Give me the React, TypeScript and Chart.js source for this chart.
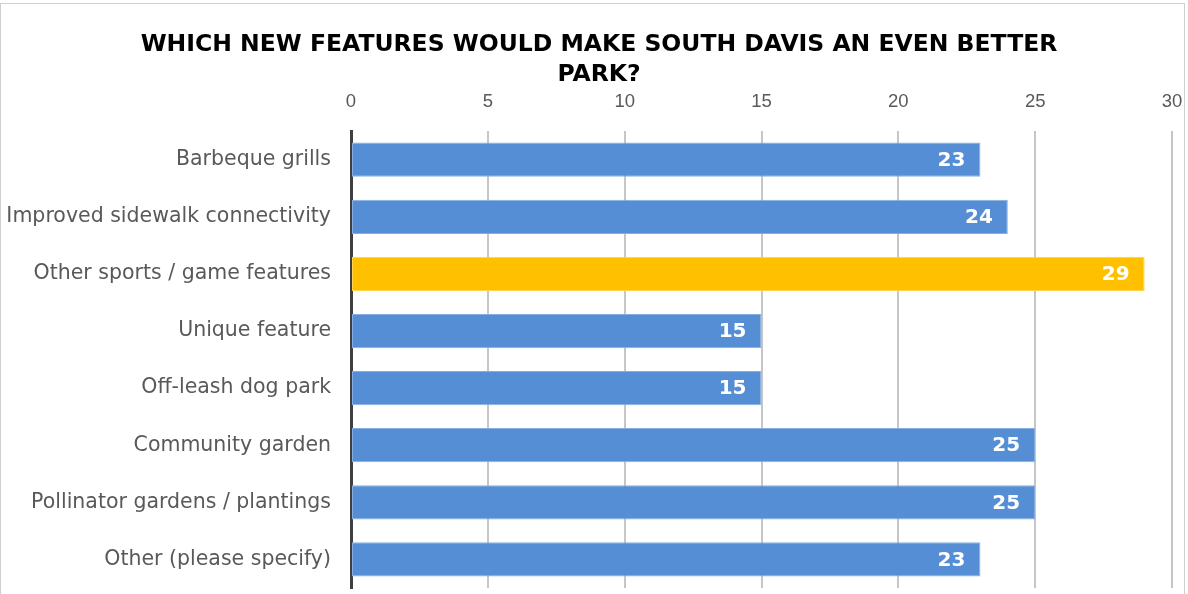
import React, { useEffect, useRef } from "react";
import { Chart, registerables } from "chart.js";

Chart.register(...registerables);

const titleLines = ["WHICH NEW FEATURES WOULD MAKE SOUTH DAVIS AN EVEN BETTER", "PARK?"];
const categories = [
  "Barbeque grills",
  "Improved sidewalk connectivity",
  "Other sports / game features",
  "Unique feature",
  "Off-leash dog park",
  "Community garden",
  "Pollinator gardens / plantings",
  "Other (please specify)",
];
const values = [23, 24, 29, 15, 15, 25, 25, 23];
const highlighted = [false, false, true, false, false, false, false, false];
const xMin = 0;
const xMax = 30;
const xStep = 5;

const BLUE = "#558ED5";
const YELLOW = "#FFC000";
const LABEL_FONT = "20.5px 'DejaVu Sans'";

const valueLabels = {
  id: "valueLabels",
  afterDatasetsDraw(chart: any) {
    const ctx = chart.ctx;
    const meta = chart.getDatasetMeta(0);
    ctx.save();
    ctx.fillStyle = "#ffffff";
    ctx.font = "bold 20px 'DejaVu Sans'";
    ctx.textAlign = "right";
    ctx.textBaseline = "middle";
    meta.data.forEach((bar: any, i: number) => {
      ctx.fillText(String(values[i]), bar.x - 15, bar.y + 1);
    });
    ctx.restore();
  },
};

export default function App() {
  const ref = useRef<HTMLCanvasElement | null>(null);
  useEffect(() => {
    if (!ref.current) return;
    const mctx = document.createElement("canvas").getContext("2d")!;
    mctx.font = LABEL_FONT;
    const widest = Math.max(...categories.map((c) => mctx.measureText(c).width));
    const chart = new Chart(ref.current, {
      type: "bar",
      data: {
        labels: categories,
        datasets: [
          {
            data: values,
            backgroundColor: highlighted.map((h) => (h ? YELLOW : BLUE)),
            borderColor: highlighted.map((h) => (h ? "#FFD34D" : "#86AEE3")),
            borderWidth: 1,
            borderSkipped: false,
            barPercentage: 0.6,
            categoryPercentage: 1,
          },
        ],
      },
      options: {
        indexAxis: "y",
        animation: false,
        responsive: false,
        maintainAspectRatio: false,
        layout: { padding: { left: 26, right: 16, top: 0, bottom: 6 } },
        plugins: {
          legend: { display: false },
          tooltip: { enabled: false },
          title: {
            display: true,
            text: titleLines,
            color: "#000000",
            font: { family: "'DejaVu Sans'", size: 23.5, weight: "bold", lineHeight: 1.28 },
            padding: { top: 30, bottom: 0 },
          },
        },
        scales: {
          x: {
            position: "top",
            min: xMin,
            max: xMax,
            ticks: {
              stepSize: xStep,
              color: "#595959",
              font: { family: "'Liberation Sans'", size: 18.5 },
              padding: 0,
            },
            grid: { color: "#C6C6C6", lineWidth: 2, drawTicks: true, tickLength: 18, tickColor: "rgba(0,0,0,0)" },
            border: { display: false },
            afterFit(scale: any) {
              scale.height = 41;
            },
          },
          y: {
            ticks: {
              color: "#595959",
              font: { family: "'DejaVu Sans'", size: 20.5 },
              mirror: true,
              crossAlign: "far",
              padding: -(widest + 20),
            },
            grid: { display: false },
            border: { display: true, color: "#3F3F3F", width: 3 },
            afterFit(scale: any) {
              scale.width = 325;
            },
          },
        },
      },
      plugins: [valueLabels],
    });
    return () => chart.destroy();
  }, []);
  return (
    <div style={{ position: "fixed", left: 0, top: 0, width: 1188, height: 594, overflow: "hidden", background: "#fff" }}>
      <div
        style={{
          position: "absolute",
          left: 0,
          top: 3,
          width: 1185,
          height: 620,
          border: "1.5px solid #CFCFCF",
          boxSizing: "border-box",
          pointerEvents: "none",
        }}
      />
      <canvas ref={ref} width={1188} height={594} style={{ position: "absolute", left: 0, top: 0 }} />
    </div>
  );
}
